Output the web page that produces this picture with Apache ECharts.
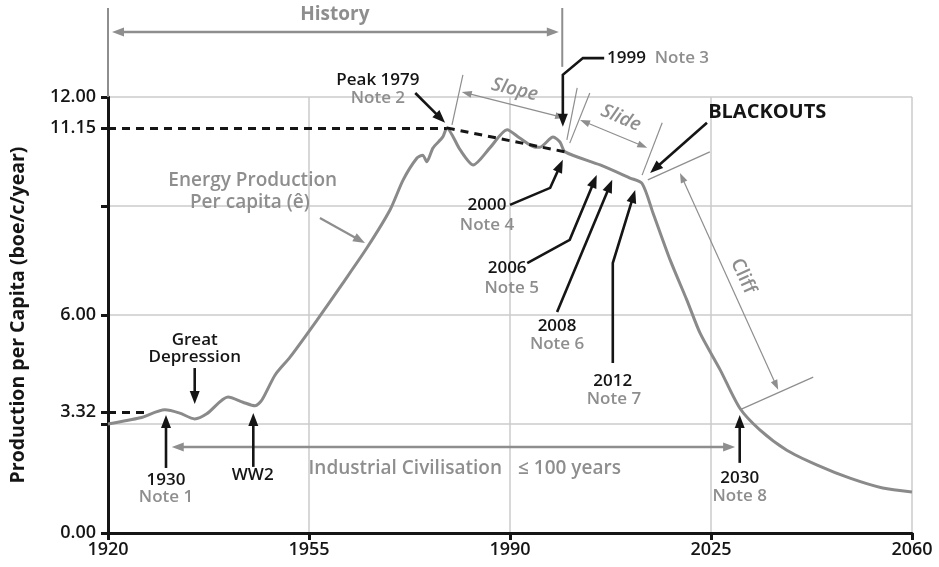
<!DOCTYPE html>
<html>
<head>
<meta charset="utf-8">
<script src="https://cdn.jsdelivr.net/npm/echarts@6/dist/echarts.min.js"></script>
<style>
html, body { margin: 0; background: #fff; }
#main { width: 939px; height: 567px; }
</style>
</head>
<body>
<div id="main"></div>
<script>
// energy production per capita (boe/c/year)
var years = [1920, 1925.6, 1929.9, 1932.5, 1935.1, 1937.2, 1940.9, 1943.5, 1945.6, 1946.8, 1949.1,
    1951.7, 1956.4, 1960.9, 1965.1, 1969.1, 1971.4, 1973.8, 1974.8, 1975.5, 1976.6, 1978.3, 1979,
    1981.3, 1983.6, 1986.5, 1989.5, 1991.7, 1994.4, 1995.2, 1997.5, 1998.7, 1999.6, 2005.7, 2010.9, 2013,
    2014.9, 2017.9, 2020.8, 2023.1, 2026.6, 2030, 2033.5, 2038.2, 2043.5, 2049.2, 2054.9, 2060];
var production = [3.0, 3.17, 3.39, 3.3, 3.14, 3.28, 3.74, 3.6, 3.5, 3.66, 4.35,
    4.84, 5.86, 6.88, 7.85, 8.89, 9.72, 10.32, 10.4, 10.22, 10.6, 10.9, 11.15,
    10.55, 10.13, 10.6, 11.1, 10.87, 10.62, 10.62, 10.9, 10.76, 10.49, 10.13, 9.77, 9.62,
    8.81, 7.51, 6.41, 5.5, 4.49, 3.44, 2.84, 2.28, 1.87, 1.51, 1.24, 1.13];

var xTicks = [1920, 1955, 1990, 2025, 2060];
var yLabelValues = [0, 6, 12];
var yMarkValues = [3.32, 11.15];

// dashed reference lines
var peakLevel = [[1920, 11.15], [1979, 11.15]];
var peakTrend = [[1979, 11.15], [1999.6, 10.49]];
var startLevel = [[1920, 3.32], [1927, 3.32]];

var BLACK = '#151515', GRAY = '#8e8e8e', LIGHT = '#cbcbcb', FONT = 'Open Sans';

var chart = echarts.init(document.getElementById('main'));

var tickLabel = { color: BLACK, fontSize: 18, fontWeight: 600, fontFamily: FONT };

chart.setOption({
    animation: false,
    grid: { left: 108, right: 27, top: 97, bottom: 34 },
    xAxis: {
        type: 'value', min: 1920, max: 2060, interval: 35,
        axisLine: { lineStyle: { color: BLACK, width: 3 } },
        axisTick: { length: 7, lineStyle: { color: BLACK, width: 3 } },
        axisLabel: Object.assign({ margin: 8, customValues: xTicks,
            formatter: function (v) { return String(v); } }, tickLabel),
        splitLine: { lineStyle: { color: LIGHT, width: 1.5 } }
    },
    yAxis: [{
        type: 'value', min: 0, max: 12, interval: 3,
        name: 'Production per Capita (boe/c/year)',
        nameLocation: 'middle', nameGap: 80, nameRotate: 90,
        nameTextStyle: { color: BLACK, fontSize: 19.5, fontWeight: 'bold', fontFamily: FONT },
        axisLine: { show: true, lineStyle: { color: BLACK, width: 3 } },
        axisTick: { show: true, length: 7, lineStyle: { color: BLACK, width: 3 } },
        axisLabel: Object.assign({ margin: 12, customValues: yLabelValues,
            formatter: function (v) { return v.toFixed(2); } }, tickLabel),
        splitLine: { lineStyle: { color: LIGHT, width: 1.5 } }
    }, {
        type: 'value', min: 0, max: 12, position: 'left',
        axisLine: { show: false },
        axisTick: { show: true, length: 7, customValues: yMarkValues, lineStyle: { color: BLACK, width: 3 } },
        axisLabel: Object.assign({ margin: 12, customValues: yMarkValues,
            formatter: function (v) { return v.toFixed(2); } }, tickLabel),
        splitLine: { show: false }
    }],
    series: [{
        type: 'line',
        data: years.map(function (y, i) { return [y, production[i]]; }),
        showSymbol: false,
        smooth: 0.25,
        lineStyle: { color: '#8a8a8a', width: 3 },
        z: 3,
        markLine: {
            silent: true,
            symbol: 'none',
            label: { show: false },
            lineStyle: { color: BLACK, type: [8, 6], width: 3 },
            data: [
                [{ coord: peakLevel[0] }, { coord: peakLevel[1] }],
                [{ coord: peakTrend[0] }, { coord: peakTrend[1] }],
                [{ coord: startLevel[0] }, { coord: startLevel[1] }]
            ]
        }
    }]
});

// ---- annotations, positioned in data units ----
// [text, year, value, colour, align, extra]
var notes = [
    ['History', 1959.5, 14.26, 'g', 'center', { w: 'bold', s: 19 }],
    ['Industrial Civilisation', 1988.6, 1.76, 'g', 'right', { s: 19 }],
    ['\u2264 100 years', 1991.4, 1.76, 'g', 'left', { s: 19 }],
    ['Great', 1935.1, 5.31, 'k', 'center'],
    ['Depression', 1935.1, 4.84, 'k', 'center'],
    ['1930', 1930.1, 1.46, 'k', 'center'],
    ['Note 1', 1930.1, 0.99, 'g', 'center'],
    ['WW2', 1945.2, 1.6, 'k', 'center'],
    ['Energy Production', 1945.2, 9.7, 'g', 'center', { s: 19 }],
    ['Per capita (\u00ea)', 1944.7, 9.1, 'g', 'center', { s: 19 }],
    ['Peak 1979', 1967.0, 12.47, 'k', 'center'],
    ['Note 2', 1967.0, 11.97, 'g', 'center'],
    ['Slope', 1990.8, 12.2, 'g', 'center', { r: -0.24, i: true, s: 19 }],
    ['Slide', 2009.3, 11.42, 'g', 'center', { r: -0.4, i: true, s: 19 }],
    ['Cliff', 2030.6, 7.07, 'g', 'center', { r: -1.15, s: 19 }],
    ['1999', 2006.9, 13.07, 'k', 'left'],
    ['Note 3', 2015.2, 13.07, 'g', 'left'],
    ['BLACKOUTS', 2024.5, 11.59, 'k', 'left', { w: 'bold', s: 20 }],
    ['2000', 1986.0, 9.03, 'k', 'center'],
    ['Note 4', 1986.0, 8.48, 'g', 'center'],
    ['2006', 1989.5, 7.29, 'k', 'center'],
    ['Note 5', 1990.3, 6.74, 'g', 'center'],
    ['2008', 1998.2, 5.7, 'k', 'center'],
    ['Note 6', 1998.2, 5.2, 'g', 'center'],
    ['2012', 2007.9, 4.18, 'k', 'center'],
    ['Note 7', 2008.1, 3.69, 'g', 'center'],
    ['2030', 2030, 1.51, 'k', 'center'],
    ['Note 8', 2030, 1.02, 'g', 'center']
];

// black pointers, last point is the tip
var pointers = [
    [[1935.1, 4.54], [1935.1, 3.55]],
    [[1930.1, 1.79], [1930.1, 3.25]],
    [[1945.3, 1.82], [1945.3, 3.3]],
    [[1973.5, 12.11], [1978.7, 11.29]],
    [[2006.4, 13.07], [2002.7, 13.07], [1999.2, 12.61], [1999.2, 11.18]],
    [[2024.3, 11.29], [2014.4, 9.91]],
    [[1990.0, 9.03], [1997.0, 9.5], [1999.2, 10.27]],
    [[1993.0, 7.43], [2000.4, 8.07], [2005.1, 9.85]],
    [[1998.2, 6.08], [2007.8, 9.72]],
    [[2007.9, 4.68], [2007.9, 7.43], [2011.8, 9.44]],
    [[2030, 1.93], [2030, 3.25]]
];

// grey spans: [from, to, double headed, width]
var spans = [
    [[1920.7, 13.79], [1998.5, 13.79], true, 2.5],
    [[1931.1, 2.37], [2029.2, 2.37], true, 2.5],
    [[1956.9, 8.67], [1964.75, 7.98], false, 2.2],
    [[1981.6, 12.14], [1999.6, 11.42], true, 1.2],
    [[2002.2, 11.37], [2013.9, 10.6], true, 1.2],
    [[2019.6, 9.91], [2036.7, 3.94], true, 1.2]
];

// grey marker strokes: [from, to, width]
var strokes = [
    [[1920, 14.45], [1920, 12], 2],
    [[1999.1, 14.45], [1999.1, 12.83], 2],
    [[1981.8, 12.61], [1979.9, 11.23], 1.2],
    [[2001.7, 12.25], [1999.9, 10.82], 1.2],
    [[2003.9, 12.11], [2000.4, 10.73], 1.2],
    [[2016.5, 11.29], [2013, 9.85], 1.2],
    [[2014.0, 9.72], [2024.8, 10.49], 1.2],
    [[2030, 3.39], [2042.8, 4.29], 1.2]
];

function px(p) { return chart.convertToPixel({ gridIndex: 0 }, p); }

function head(tip, from, len, wid, color) {
    var dx = tip[0] - from[0], dy = tip[1] - from[1];
    var d = Math.sqrt(dx * dx + dy * dy) || 1;
    dx /= d; dy /= d;
    var bx = tip[0] - dx * len, by = tip[1] - dy * len;
    return {
        type: 'polygon', silent: true, z: 20,
        shape: { points: [tip, [bx - dy * wid / 2, by + dx * wid / 2], [bx + dy * wid / 2, by - dx * wid / 2]] },
        style: { fill: color }
    };
}

function shorten(tip, from, by) {
    var dx = tip[0] - from[0], dy = tip[1] - from[1];
    var d = Math.sqrt(dx * dx + dy * dy) || 1;
    return [tip[0] - dx / d * by, tip[1] - dy / d * by];
}

var els = [];

strokes.forEach(function (s) {
    els.push({ type: 'line', silent: true, z: 15,
        shape: { x1: px(s[0])[0], y1: px(s[0])[1], x2: px(s[1])[0], y2: px(s[1])[1] },
        style: { stroke: GRAY, lineWidth: s[2] } });
});

spans.forEach(function (s) {
    var a = px(s[0]), b = px(s[1]);
    var len = s[3] > 2 ? 12 : 10, wid = s[3] > 2 ? 9 : 7;
    var a2 = s[2] ? shorten(a, b, len - 2) : a, b2 = shorten(b, a, len - 2);
    els.push({ type: 'line', silent: true, z: 15,
        shape: { x1: a2[0], y1: a2[1], x2: b2[0], y2: b2[1] },
        style: { stroke: GRAY, lineWidth: s[3] } });
    els.push(head(b, a, len, wid, GRAY));
    if (s[2]) els.push(head(a, b, len, wid, GRAY));
});

pointers.forEach(function (p) {
    var pts = p.map(px);
    var n = pts.length;
    var tip = pts[n - 1], prev = pts[n - 2];
    pts[n - 1] = shorten(tip, prev, 9);
    els.push({ type: 'polyline', silent: true, z: 18,
        shape: { points: pts },
        style: { stroke: BLACK, lineWidth: 2.6, fill: null } });
    els.push(head(tip, prev, 13, 10, BLACK));
});

notes.forEach(function (t) {
    var p = px([t[1], t[2]]);
    var o = t[5] || {};
    els.push({ type: 'text', silent: true, z: 25,
        x: p[0], y: p[1], rotation: o.r || 0,
        style: {
            text: t[0],
            fill: t[3] === 'k' ? BLACK : GRAY,
            fontSize: o.s || 17,
            fontWeight: o.w || 600,
            fontStyle: o.i ? 'italic' : 'normal',
            fontFamily: FONT,
            align: t[4],
            verticalAlign: 'middle'
        } });
});

chart.setOption({ graphic: els });
</script>
</body>
</html>
